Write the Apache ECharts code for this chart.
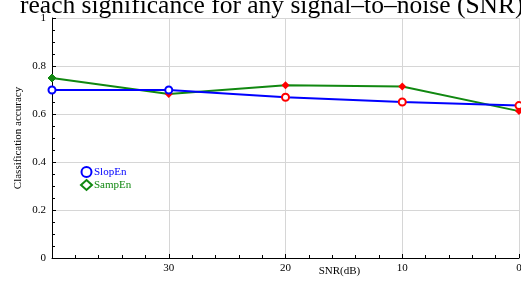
<!DOCTYPE html>
<html>
<head>
<meta charset="utf-8">
<script src="https://cdn.jsdelivr.net/npm/echarts@6/dist/echarts.min.js"></script>
<style>
  html, body { margin: 0; padding: 0; background: #fff; }
  #chart { width: 521px; height: 281px; }
</style>
</head>
<body>
<div id="chart"></div>
<script>
  // SNR levels (dB) and accuracies
  let snr = [40, 30, 20, 10, 0]
  let slopEn = [0.70, 0.70, 0.67, 0.65, 0.635]
  let sampEn = [0.75, 0.683, 0.72, 0.715, 0.612]
  let titleText = 'reach significance for any signal\u2013to\u2013noise (SNR)'

  let serif = 'Liberation Serif'

  // first point keeps the line colour, the rest get the red markers
  function points(vals, firstColor) {
    return vals.map((v, i) => {
      let p = { value: [snr[i], v] }
      if (i === 0) p.itemStyle = { color: firstColor, borderColor: firstColor }
      return p
    })
  }

  let myChart = echarts.init(document.getElementById('chart'))
  let option = {
    animation: false,
    title: {
      text: titleText,
      left: 15,
      top: -12,
      textStyle: { fontFamily: serif, fontSize: 25.5, fontWeight: 'normal', color: '#000' }
    },
    grid: { left: 52, right: 2, top: 18, bottom: 23, outerBoundsMode: 'none' },
    legend: {
      orient: 'vertical',
      left: 75,
      top: 161,
      itemWidth: 11,
      itemHeight: 10,
      itemGap: 1,
      textStyle: { fontFamily: serif, fontSize: 11, padding: [0, 0, 0, -3] },
      data: [
        { name: 'SlopEn', icon: 'emptyCircle', itemStyle: { color: '#0000ff', borderWidth: 1 }, textStyle: { color: '#0000ff' } },
        { name: 'SampEn', icon: 'emptyDiamond', itemStyle: { color: '#118811', borderWidth: 1 }, textStyle: { color: '#118811' } }
      ]
    },
    xAxis: {
      type: 'value',
      inverse: true,
      min: 0,
      max: 40,
      interval: 10,
      name: 'SNR(dB)',
      nameLocation: 'middle',
      nameGap: 8,
      nameMoveOverlap: false,
      nameTextStyle: { fontFamily: serif, fontSize: 11, color: '#000', padding: [0, 0, 0, 108] },
      axisLine: { onZero: false, lineStyle: { color: '#000', width: 1 } },
      axisTick: { inside: true, length: 4, lineStyle: { color: '#000' } },
      minorTick: { show: true, splitNumber: 5, length: 3, lineStyle: { color: '#000' } },
      axisLabel: {
        fontFamily: serif, fontSize: 11, color: '#000', margin: 5,
        formatter: v => (v === 40 ? '' : String(v))
      },
      splitLine: { show: true, lineStyle: { color: '#d6d6d6', width: 1 } }
    },
    yAxis: {
      type: 'value',
      min: 0,
      max: 1,
      interval: 0.2,
      name: 'Classification accuracy',
      nameLocation: 'middle',
      nameGap: 28,
      nameMoveOverlap: false,
      nameTextStyle: { fontFamily: serif, fontSize: 11, color: '#000' },
      axisLine: { show: true, onZero: false, lineStyle: { color: '#000', width: 1 } },
      axisTick: { inside: true, length: 4, lineStyle: { color: '#000' } },
      minorTick: { show: true, splitNumber: 4, length: 3, lineStyle: { color: '#000' } },
      axisLabel: { fontFamily: serif, fontSize: 11, color: '#000', margin: 6 },
      splitLine: { show: true, lineStyle: { color: '#d6d6d6', width: 1 } }
    },
    series: [
      {
        name: 'SampEn',
        type: 'line',
        data: points(sampEn, '#118811'),
        symbol: 'diamond',
        symbolSize: 8,
        itemStyle: { color: '#ff0000' },
        lineStyle: { color: '#118811', width: 2 },
        z: 2
      },
      {
        name: 'SlopEn',
        type: 'line',
        data: points(slopEn, '#0000ff').map((p, i) => {
          if (i === 1) p.itemStyle = { color: '#0000ff', borderColor: '#0000ff' }
          return p
        }),
        symbol: 'emptyCircle',
        symbolSize: 7,
        itemStyle: { color: '#ff0000', borderColor: '#ff0000', borderWidth: 1.5 },
        lineStyle: { color: '#0000ff', width: 2 },
        z: 3
      }
    ]
  }
  myChart.setOption(option)
</script>
</body>
</html>
